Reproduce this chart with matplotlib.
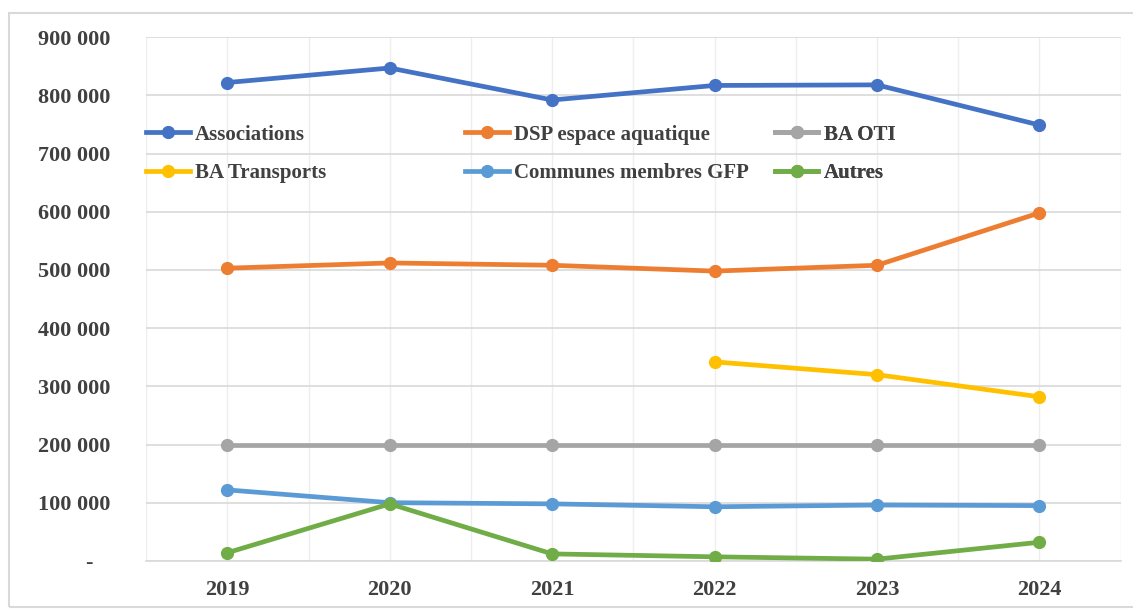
import matplotlib

matplotlib.use("Agg")
import matplotlib.pyplot as plt
from matplotlib.lines import Line2D
from matplotlib.patches import Rectangle
from matplotlib.ticker import FuncFormatter, MultipleLocator

years = ["2019", "2020", "2021", "2022", "2023", "2024"]

associations = [822000, 847000, 792000, 817000, 818000, 749000]
dsp_aquatique = [503000, 512000, 508000, 498000, 508000, 598000]
ba_oti = [200000, 200000, 200000, 200000, 200000, 200000]
ba_transports = [None, None, None, 342000, 320000, 282000]
communes_gfp = [122000, 100000, 98000, 93000, 96000, 95000]
autres = [14000, 98000, 12000, 7000, 3000, 32000]

series = [
    ("Associations", associations, "#4472C4"),
    ("DSP espace aquatique", dsp_aquatique, "#ED7D31"),
    ("BA OTI", ba_oti, "#A5A5A5"),
    ("BA Transports", ba_transports, "#FFC000"),
    ("Communes membres GFP", communes_gfp, "#5B9BD5"),
    ("Autres", autres, "#70AD47"),
]

TEXT_COLOR = "#404040"
FONT = ["Liberation Serif", "DejaVu Serif"]

fig = plt.figure(figsize=(11.33, 6.09), dpi=100)
ax = fig.add_axes([0.129, 0.079, 0.860, 0.860])

# light frame around the whole chart area
fig.patches.append(
    Rectangle((0.008, 0.003), 1.2, 0.976, transform=fig.transFigure,
              facecolor="none", edgecolor="#d9d9d9", linewidth=1.5)
)

x = list(range(len(years)))
handles = {}
for name, values, color in series:
    pts = [(xi, v) for xi, v in zip(x, values) if v is not None]
    xs, ys = zip(*pts)
    ax.plot(xs, ys, color=color, linewidth=3.4, marker="o",
            markersize=8.5, solid_capstyle="round", zorder=3)
    handles[name] = Line2D([], [], color=color, linewidth=3.4, marker="o",
                           markersize=8.5)

ax.set_xlim(-0.5, len(years) - 0.5)
ax.set_ylim(0, 900000)
ax.set_xticks(x)
ax.set_xticklabels(years)
ax.xaxis.set_minor_locator(MultipleLocator(0.5))
ax.yaxis.set_major_locator(MultipleLocator(100000))


def fmt_thousands(v, _pos):
    if v == 0:
        return "-   "
    return f"{int(v):,}".replace(",", " ")


ax.yaxis.set_major_formatter(FuncFormatter(fmt_thousands))

ax.grid(axis="y", which="major", color="#d9d9d9", linewidth=1.2, zorder=0)
ax.grid(axis="x", which="both", color="#eeeeee", linewidth=1.0, zorder=0)
ax.set_axisbelow(True)

for side in ("left", "right", "top"):
    ax.spines[side].set_visible(False)
ax.spines["bottom"].set_color("#d9d9d9")
ax.spines["bottom"].set_linewidth(1.2)

ax.tick_params(axis="both", which="both", length=0, colors=TEXT_COLOR)
ax.tick_params(axis="y", pad=26)
ax.tick_params(axis="x", pad=14)
for lbl in ax.get_xticklabels() + ax.get_yticklabels():
    lbl.set_fontfamily(FONT)
    lbl.set_fontweight("bold")
    lbl.set_fontsize(16)
    lbl.set_color(TEXT_COLOR)

# legend in three columns, each placed on its own
legend_cols = [
    (["Associations", "BA Transports"], 0.0),
    (["DSP espace aquatique", "Communes membres GFP"], 0.327),
    (["BA OTI", "Autres"], 0.645),
]
for names, x0 in legend_cols:
    leg = ax.legend(
        [handles[n] for n in names], names,
        loc="upper left", bbox_to_anchor=(x0, 0.833),
        frameon=False, handlelength=2.1, handletextpad=0.25,
        labelspacing=0.9, borderaxespad=0.0, borderpad=0.0,
        prop={"family": FONT, "weight": "bold", "size": 15},
    )
    for t in leg.get_texts():
        t.set_color(TEXT_COLOR)
    ax.add_artist(leg)

fig.savefig("out.png", dpi=100, facecolor="white")
